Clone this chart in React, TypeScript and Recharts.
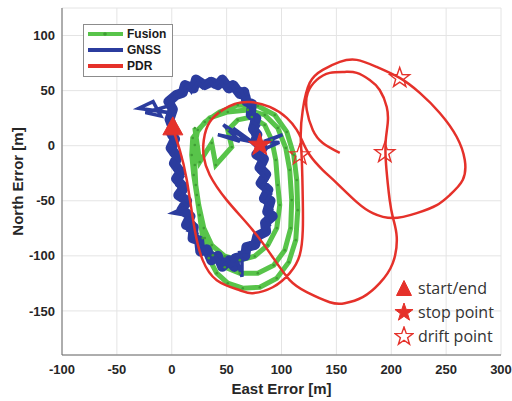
import { ComposedChart, Line, Scatter, XAxis, YAxis, CartesianGrid, Legend } from 'recharts';

type P = [number, number];

const X_TICKS = [-100, -50, 0, 50, 100, 150, 200, 250, 300];
const Y_TICKS = [-150, -100, -50, 0, 50, 100];

const RED = '#e5312a';
const GREEN = '#58c44a';
const BLUE = '#2b3c9e';

// PDR track [east, north] in metres
const pdrTrack: P[] = [
  [0, 18.8], [7.3, -3.9], [13.7, -31.2], [21.0, -76.6], [28.2, -103.9], [41.0, -122.1], [62.0, -131.2],
  [73.8, -133.9], [92.0, -128.5], [107.5, -115.7], [116.6, -99.4], [119.4, -76.6], [119.4, -49.4],
  [118.5, -13.0], [117.5, 9.7], [119.4, 32.5], [125.7, 57.0], [137.6, 68.8], [153.1, 76.1], [168.6, 77.9],
  [186.8, 71.5], [207.7, 61.5], [226.0, 47.9], [244.2, 29.7], [259.7, 7.9], [267.0, -13.0], [265.1, -31.2],
  [253.3, -44.8], [241.5, -53.9], [223.2, -61.2], [201.4, -65.7], [183.1, -61.2], [168.6, -51.2],
  [150.3, -33.9], [137.6, -22.1], [125.7, -8.5], [118.5, 5.2], [113.9, 14.3], [104.8, 25.2], [89.3, 35.2],
  [71.1, 39.7], [57.4, 37.9], [46.5, 32.5], [34.6, 21.5], [29.2, 5.2], [29.2, -10.3], [34.6, -26.6],
  [50.1, -49.4], [73.8, -76.6], [92.0, -101.2], [107.5, -122.1], [123.0, -133.0], [144.0, -142.1],
  [157.6, -143.0], [174.0, -137.5], [189.5, -124.8], [201.4, -106.6], [205.0, -83.0], [201.4, -64.8],
  [198.6, -49.4], [196.8, -33.9], [195.0, -13.0], [195.0, 5.2], [196.8, 20.6], [195.9, 35.2], [189.5, 50.6],
  [180.4, 59.7], [168.6, 66.1], [157.6, 67.0], [144.0, 66.1], [132.1, 59.7], [123.9, 47.9], [123.0, 32.5],
  [128.5, 14.3], [137.6, 2.5], [153.1, -6.6],
];

// Fusion track: zigzag start, then three loops
const fusionTrack: P[] = [
  [21.0, 16.1], [25.5, -14.8], [36.4, 2.5], [40.1, -17.5], [54.7, -1.2], [51.0, 14.3],
  [60.1, 23.4], [72.9, 26.1], [84.7, 18.8], [91.1, 5.2], [94.8, -13.0], [96.6, -35.7], [98.4, -53.9],
  [95.7, -74.8], [87.5, -90.3], [75.6, -100.3], [62.0, -103.9], [48.3, -100.3], [36.4, -90.3],
  [29.2, -74.8], [24.6, -53.9], [21.9, -35.7], [21.0, -17.5], [21.0, 0.6], [23.7, 14.3],
  [34.6, 25.2], [51.0, 30.6], [69.3, 32.5], [84.7, 27.9], [96.6, 16.1], [103.9, -2.1], [107.5, -22.1],
  [109.3, -49.4], [108.4, -74.8], [103.0, -94.8], [92.9, -108.5], [78.4, -115.7], [62.0, -115.7],
  [48.3, -110.3], [37.4, -99.4], [30.1, -83.9], [25.5, -63.0], [22.8, -44.8], [20.0, -26.6],
  [18.2, -8.5], [19.1, 7.0],
  [30.1, 21.5], [43.7, 30.6], [60.1, 37.0], [78.4, 36.1], [93.9, 27.9], [104.8, 12.5], [111.2, -8.5],
  [113.9, -31.2], [114.8, -58.5], [113.0, -85.7], [106.6, -105.7], [95.7, -120.3], [80.2, -128.5],
  [64.7, -129.4], [51.0, -124.8], [41.0, -115.7], [33.7, -102.1], [28.2, -83.9], [25.5, -63.0],
];

// GNSS track, two noisy passes
const gnssPass1: P[] = [
  [0, 19], [-2, 30], [-30, 34], [-17, 40], [-10, 27], [-24, 30], [-3, 36], [2, 44], [8, 50], [6, 44],
  [14, 55], [18, 49], [24, 58], [28, 53], [34, 60], [38, 54], [44, 59], [48, 53], [54, 56], [58, 49],
  [63, 51], [66, 43], [70, 44], [71, 34], [75, 31], [73, 22], [79, 18], [74, 10], [80, 2], [42, 10],
  [62, 4], [47, 19], [66, 7], [56, 16], [78, 0], [101, 10], [84, 4], [98, 3], [82, -4], [79, -10],
  [85, -16], [80, -24], [87, -30], [82, -38], [90, -44], [85, -52], [91, -58], [86, -65], [89, -72],
  [82, -78], [80, -86], [72, -88], [70, -96], [62, -97], [64, -104], [64, -119], [60, -106], [54, -109],
  [50, -102], [44, -107], [38, -98], [32, -101], [28, -92], [22, -88], [23, -80], [15, -77], [20, -70],
  [12, -63], [1, -61], [14, -55], [7, -48], [12, -42], [5, -36], [10, -28], [3, -22], [7, -14], [0, -8],
  [4, 0], [-2, 8], [2, 14], [0, 19],
];

const gnssPass2: P[] = [
  [1, 16], [-2, 24], [1, 33], [-3, 40], [4, 46], [10, 48], [12, 55], [20, 52], [22, 60], [30, 55],
  [36, 58], [42, 55], [46, 60], [52, 52], [56, 55], [62, 47], [66, 49], [68, 40], [73, 38], [72, 28],
  [77, 25], [74, 15], [78, 10], [76, 4], [83, -2], [77, -8], [84, -12], [80, -20], [86, -26], [81, -34],
  [88, -40], [84, -48], [90, -50], [87, -60], [92, -64], [85, -70], [86, -78], [78, -82], [76, -90],
  [68, -92], [67, -100], [58, -102], [57, -110], [52, -104], [46, -110], [42, -100], [36, -104],
  [32, -94], [26, -96], [25, -86], [19, -84], [20, -74], [13, -72], [17, -64], [9, -58], [14, -50],
  [6, -45], [11, -38], [4, -30], [8, -24], [2, -16], [5, -10], [-1, -2], [3, 6], [-1, 12], [1, 20],
];

const startEnd: P[] = [[1, 18]];
const stopPoints: P[] = [[80.2, 0.6]];
const driftPoints: P[] = [[116.6, -8.5], [207.7, 61.5], [194.1, -6.6]];

const rows = (pts: P[]) => pts.map(([e, n]) => ({ e, n }));

function starPath(cx: number, cy: number, R: number) {
  const r = R * 0.4;
  const pts: string[] = [];
  for (let i = 0; i < 10; i++) {
    const a = -Math.PI / 2 + (i * Math.PI) / 5;
    const rad = i % 2 === 0 ? R : r;
    pts.push(`${cx + rad * Math.cos(a)},${cy + rad * Math.sin(a)}`);
  }
  return pts.join(' ');
}

const Star = ({ cx, cy, R, hollow }: { cx: number; cy: number; R: number; hollow?: boolean }) => (
  <polygon
    points={starPath(cx, cy, R)}
    fill={hollow ? 'none' : RED}
    stroke={RED}
    strokeWidth={hollow ? 1.4 : 1}
    strokeLinejoin="miter"
  />
);

const Tri = ({ cx, cy, w, h }: { cx: number; cy: number; w: number; h: number }) => (
  <polygon points={`${cx},${cy - h / 2} ${cx + w / 2},${cy + h / 2} ${cx - w / 2},${cy + h / 2}`} fill={RED} stroke={RED} />
);

const seriesKeys = [
  { name: 'Fusion', color: GREEN, dot: true },
  { name: 'GNSS', color: BLUE, dot: false },
  { name: 'PDR', color: RED, dot: false },
];

const markerKeys = ['start/end', 'stop point', 'drift point'];

function Legends() {
  return (
    <div style={{ position: 'relative', width: 512, height: 401, pointerEvents: 'none' }}>
      <div
        style={{
          position: 'absolute', left: 83, top: 24, width: 90, height: 53, boxSizing: 'border-box',
          border: '1px solid #8c8c8c', background: '#fff',
        }}
      >
        {seriesKeys.map((s, i) => (
          <div key={s.name} style={{ position: 'absolute', left: 3, top: 2 + i * 16, height: 14, display: 'flex', alignItems: 'center' }}>
            <svg width={37} height={8} style={{ marginRight: 3 }}>
              <line x1={1} y1={4} x2={36} y2={4} stroke={s.color} strokeWidth={4} />
              {s.dot && <circle cx={18} cy={4} r={1.8} fill="#3f9c35" />}
            </svg>
            <span style={{ font: 'bold 12px "Liberation Sans", Arial, sans-serif', color: '#1a1a1a', lineHeight: '14px' }}>{s.name}</span>
          </div>
        ))}
      </div>
      {markerKeys.map((name, i) => (
        <div key={name} style={{ position: 'absolute', left: 394, top: 277 + i * 24, height: 22, display: 'flex', alignItems: 'center' }}>
          <svg width={20} height={20} style={{ marginRight: 4 }}>
            {i === 0 && <Tri cx={10} cy={10} w={15} h={15} />}
            {i === 1 && <Star cx={10} cy={10.5} R={9.5} />}
            {i === 2 && <Star cx={10} cy={10.5} R={9.5} hollow />}
          </svg>
          <span style={{ font: '16px "Open Sans", sans-serif', color: '#333', lineHeight: '22px' }}>{name}</span>
        </div>
      ))}
    </div>
  );
}

export default function App() {
  const tickStyle = { fontFamily: '"Liberation Sans", Arial, sans-serif', fontWeight: 'bold' as const, fontSize: 13, fill: '#262626' };
  return (
    <div style={{ position: 'absolute', left: 0, top: 0, width: 512, height: 401, background: '#fff' }}>
      <ComposedChart width={512} height={401} margin={{ top: 8, right: 11, left: 12, bottom: 16 }}>
        <CartesianGrid stroke="#e4e4e4" strokeWidth={1} />
        <XAxis
          dataKey="e"
          type="number"
          domain={[-100, 300]}
          ticks={X_TICKS}
          allowDataOverflow
          height={30}
          tick={tickStyle}
          tickLine={false}
          tickSize={5}
          tickMargin={5}
          axisLine={{ stroke: '#6b6b6b' }}
          label={(p: any) => (
            <text
              x={p.viewBox.x + p.viewBox.width / 2}
              y={p.viewBox.y + 33}
              textAnchor="middle"
              dominantBaseline="central"
              style={{ fontFamily: '"Liberation Sans", Arial, sans-serif', fontWeight: 'bold', fontSize: 15, fill: '#262626' }}
            >
              East Error [m]
            </text>
          )}
        />
        <YAxis
          dataKey="n"
          type="number"
          domain={[-190, 125]}
          ticks={Y_TICKS}
          allowDataOverflow
          width={50}
          tick={tickStyle}
          tickLine={false}
          tickSize={5}
          tickMargin={2}
          axisLine={{ stroke: '#6b6b6b' }}
          label={(p: any) => (
            <text
              x={p.viewBox.x + 5}
              y={p.viewBox.y + p.viewBox.height / 2}
              transform={`rotate(-90 ${p.viewBox.x + 5} ${p.viewBox.y + p.viewBox.height / 2})`}
              textAnchor="middle"
              dominantBaseline="central"
              style={{ fontFamily: '"Liberation Sans", Arial, sans-serif', fontWeight: 'bold', fontSize: 15, fill: '#262626' }}
            >
              North Error [m]
            </text>
          )}
        />
        <Line data={rows(fusionTrack)} dataKey="n" type="linear" stroke={GREEN} strokeWidth={5}
          dot={{ r: 1.3, fill: '#3f9c35', stroke: 'none' }} isAnimationActive={false} />
        <Line data={rows(gnssPass2)} dataKey="n" type="linear" stroke={BLUE} strokeWidth={10} strokeLinejoin="round" dot={false} isAnimationActive={false} />
        <Line data={rows(gnssPass1)} dataKey="n" type="linear" stroke={BLUE} strokeWidth={3.5} dot={false} isAnimationActive={false} />
        <Line data={rows(pdrTrack)} dataKey="n" type="natural" stroke={RED} strokeWidth={2.5} dot={false} isAnimationActive={false} />
        <Scatter data={rows(startEnd)} dataKey="n" isAnimationActive={false}
          shape={(p: any) => <Tri cx={p.cx} cy={p.cy} w={20} h={18} />} />
        <Scatter data={rows(stopPoints)} dataKey="n" isAnimationActive={false}
          shape={(p: any) => <Star cx={p.cx} cy={p.cy} R={12} />} />
        <Scatter data={rows(driftPoints)} dataKey="n" isAnimationActive={false}
          shape={(p: any) => <Star cx={p.cx} cy={p.cy} R={10.5} hollow />} />
        <Legend
          layout="vertical"
          align="center"
          verticalAlign="middle"
          content={() => <Legends />}
          wrapperStyle={{ left: 0, top: 0, width: 512, height: 401, margin: 0 }}
        />
      </ComposedChart>
    </div>
  );
}
